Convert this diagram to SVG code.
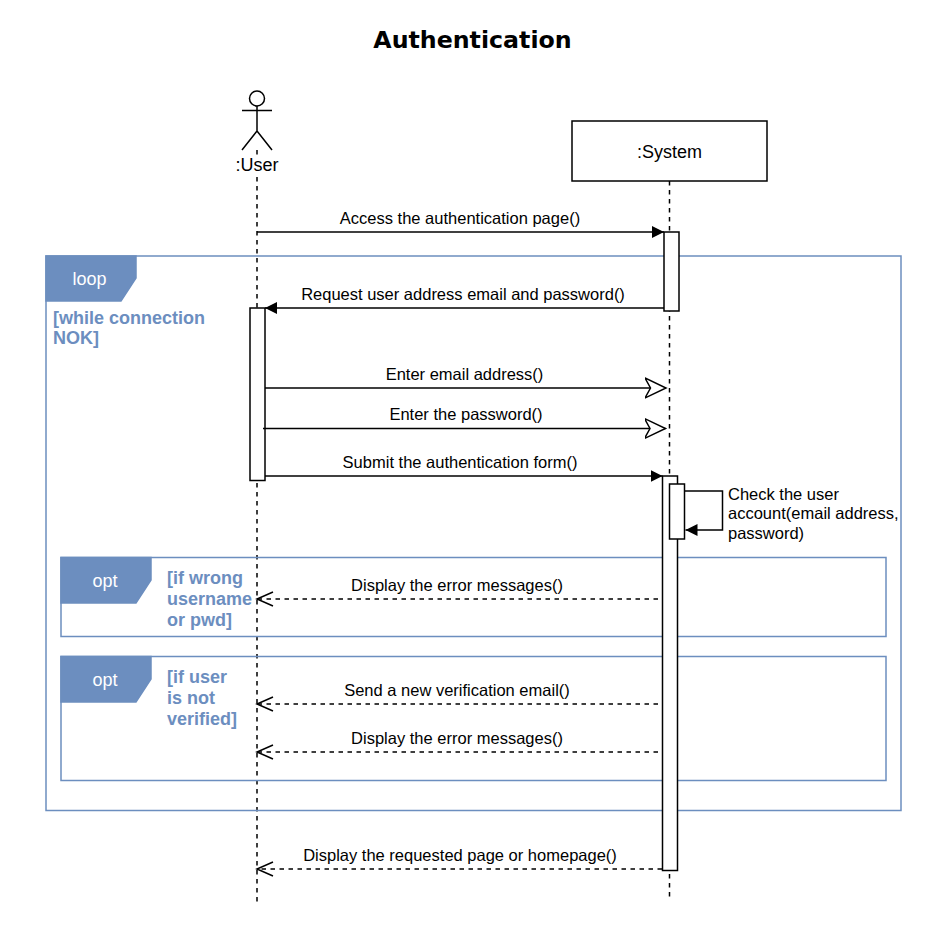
<svg xmlns="http://www.w3.org/2000/svg" width="945" height="945" viewBox="0 0 945 945">
<style>
text{font-family:"Liberation Sans",Arial,sans-serif;font-size:16.500px;fill:#000}
.c{text-anchor:middle}
.a{font-size:18px}
.g{fill:#6c8ebf;font-weight:bold;font-size:18px}
.w{fill:#fff;font-size:18px;text-anchor:middle}
.frame{fill:none;stroke:#6c8ebf;stroke-width:1.5}
.tab{fill:#6c8ebf;stroke:#6c8ebf;stroke-width:1.5}
.box{fill:#fff;stroke:#000;stroke-width:1.5}
.ll{stroke:#000;stroke-width:1.5;stroke-dasharray:4.5 4.5;fill:none}
.m{stroke:#000;stroke-width:1.5;fill:none}
.d{stroke:#000;stroke-width:1.5;fill:none;stroke-dasharray:4.5 4.5}
</style>
<defs>
<marker id="f" markerUnits="userSpaceOnUse" markerWidth="14" markerHeight="14" refX="12" refY="7" orient="auto"><path d="M0 1L12 7L0 13Z" fill="#000"/></marker>
<marker id="o" markerUnits="userSpaceOnUse" markerWidth="24" markerHeight="24" refX="21" refY="12" orient="auto"><path d="M0 2L21 12L0 22L5.500 12Z" fill="#fff" stroke="#000" stroke-width="1.500"/></marker>
<marker id="v" markerUnits="userSpaceOnUse" markerWidth="20" markerHeight="20" refX="17" refY="10" orient="auto"><path d="M1 3L17 10L1 17" fill="none" stroke="#000" stroke-width="1.500"/></marker>
</defs>
<rect width="945" height="945" fill="#fff"/>
<text x="472.500" y="48" class="c" style="font-family:'DejaVu Sans',sans-serif;font-weight:bold;font-size:23.700px">Authentication</text>
<g id="lifelines">
<path class="ll" d="M257 150V902"/>
<path class="ll" d="M669.500 181V898"/>
</g>
<g id="frame-loop">
<rect class="frame" x="46" y="256" width="855" height="554.500"/>
<path class="tab" d="M46 256H136V278L121 301H46Z"/>
<text x="89.500" y="285" class="w">loop</text>
<text x="53" y="324" class="g">[while connection</text>
<text x="53" y="344" class="g">NOK]</text>
</g>
<g id="frame-opt1">
<rect class="frame" x="61" y="557.500" width="825" height="79"/>
<path class="tab" d="M61 557.500H151V580L136 603H61Z"/>
<text x="105" y="587" class="w">opt</text>
<text x="167" y="584" class="g">[if wrong</text>
<text x="167" y="605" class="g">username</text>
<text x="167" y="626" class="g">or pwd]</text>
</g>
<g id="frame-opt2">
<rect class="frame" x="61" y="656.500" width="825" height="124"/>
<path class="tab" d="M61 656.500H151V679L136 702H61Z"/>
<text x="105" y="686" class="w">opt</text>
<text x="167" y="683" class="g">[if user</text>
<text x="167" y="704" class="g">is not</text>
<text x="167" y="725" class="g">verified]</text>
</g>
<g id="actor-user">
<circle class="m" cx="257" cy="98.500" r="7.500"/>
<path class="m" d="M257 106V131M242 110.500H272M257 131L242 150M257 131L272 150"/>
<rect x="232" y="155" width="50" height="20" fill="#fff" stroke="none"/>
<text x="257" y="171" class="c a">:User</text>
</g>
<g id="node-system">
<rect class="box" x="572" y="121" width="195" height="60"/>
<text x="669.500" y="158" class="c a">:System</text>
</g>
<g id="activation-system-1"><rect class="box" x="664" y="232" width="15" height="79"/></g>
<g id="activation-user"><rect class="box" x="250" y="308" width="15" height="172.500"/></g>
<g id="activation-system-2"><rect class="box" x="662.500" y="476" width="15" height="394.500"/></g>
<g id="activation-system-3"><rect class="box" x="669.500" y="484" width="15" height="55"/></g>
<g id="connectors">
<path class="m" marker-end="url(#f)" d="M257 232H664"/>
<path class="m" marker-end="url(#f)" d="M664 308H265"/>
<path class="m" marker-end="url(#o)" d="M265 388H666"/>
<path class="m" marker-end="url(#o)" d="M263 428.500H665.500"/>
<path class="m" marker-end="url(#f)" d="M265 476H662.500"/>
<path class="m" marker-end="url(#f)" d="M684.500 491H722.500V530H685.500"/>
<path class="d" marker-end="url(#v)" d="M658 599H257"/>
<path class="d" marker-end="url(#v)" d="M658 704H257"/>
<path class="d" marker-end="url(#v)" d="M658 752H257"/>
<path class="d" marker-end="url(#v)" d="M662 869H257"/>
</g>
<g id="labels">
<text x="460" y="224" class="c">Access the authentication page()</text>
<text x="463" y="300" class="c">Request user address email and password()</text>
<text x="464.500" y="380" class="c">Enter email address()</text>
<text x="466" y="420" class="c">Enter the password()</text>
<text x="460" y="468" class="c">Submit the authentication form()</text>
<text x="728" y="500">Check the user</text>
<text x="728" y="519">account(email address,</text>
<text x="728" y="539">password)</text>
<text x="457" y="591" class="c">Display the error messages()</text>
<text x="457" y="696" class="c">Send a new verification email()</text>
<text x="457" y="744" class="c">Display the error messages()</text>
<text x="460" y="861" class="c">Display the requested page or homepage()</text>
</g>
</svg>
